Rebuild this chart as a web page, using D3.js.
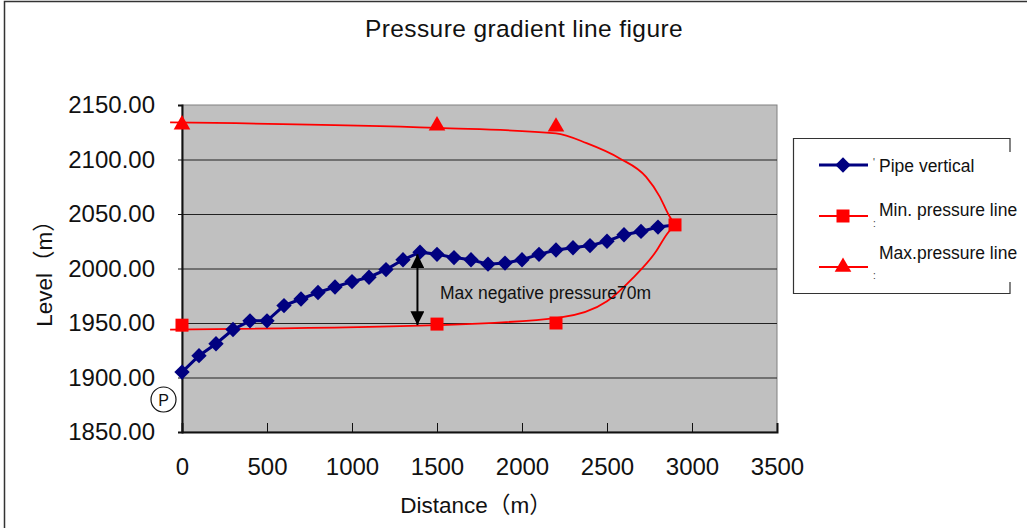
<!DOCTYPE html>
<html>
<head>
<meta charset="utf-8">
<script src="https://cdn.jsdelivr.net/npm/d3@7"></script>
<style>
    body { margin: 0; background: #fff; }
    svg { display: block; }
</style>
</head>
<body>
<div id="chart"></div>
<script>
// pipe profile, every 100 m
var pipeDistance = [0,100,200,300,400,500,600,700,800,900,1000,1100,1200,1300,1400,1500,1600,1700,1800,1900,2000,2100,2200,2300,2400,2500,2600,2700,2800,2900];
var pipeLevel = [1905,1920,1931,1944,1952,1952,1966,1972,1978,1983,1988,1992,1999,2008,2015,2013,2010,2008,2004,2005,2008,2013,2017,2019,2021,2025,2031,2034,2038,2040];

// markers
var minDistance = [0,1500,2200,2900];
var minLevel = [1948,1949,1950,2040];
var maxDistance = [0,1500,2200];
var maxLevel = [2132,2131,2130];

// smoothed pressure curves
var minCurveDistance = [-70,1500,2220,2500,2650,2790,2850,2900];
var minCurveLevel = [1944,1948,1955,1970,1991,2016,2031,2040];
var maxCurveDistance = [-70,1500,2200,2380,2575,2730,2810,2860,2900];
var maxCurveLevel = [2134,2129,2124,2115,2101,2084,2066,2050,2040];

var xTicks = [0,500,1000,1500,2000,2500,3000,3500];
var yTicks = [1850,1900,1950,2000,2050,2100,2150];

var seriesNames = ["Pipe vertical","Min. pressure line","Max.pressure line"];
var noteText = "Max negative pressure70m";
var noteDistance = 1385;
var noteTop = 2013;
var noteBottom = 1948;

var width = 1027, height = 528;
var plot = {left: 182, top: 105, right: 777, bottom: 432};
var font = "'Liberation Sans', Arial, 'Noto Sans CJK JP', sans-serif";
var navy = "#000080", red = "#ff0000";

var svg = d3.select("#chart").append("svg")
    .attr("width", width)
    .attr("height", height);

var x = d3.scaleLinear().domain([0,3500]).range([plot.left, plot.right]);
var y = d3.scaleLinear().domain([1850,2150]).range([plot.bottom, plot.top]);

// outer frame
svg.append("rect")
    .attr("x", 4.5).attr("y", 1.5)
    .attr("width", 1100).attr("height", 700)
    .attr("fill", "none")
    .attr("stroke", "#333")
    .attr("stroke-width", 1.5);

// title
svg.append("text")
    .attr("x", 524).attr("y", 37)
    .attr("text-anchor", "middle")
    .attr("font-family", font)
    .attr("font-size", 24.5)
    .attr("letter-spacing", 0.4)
    .attr("fill", "#111")
    .text("Pressure gradient line figure");

// plot background
svg.append("rect")
    .attr("x", plot.left).attr("y", plot.top)
    .attr("width", plot.right - plot.left)
    .attr("height", plot.bottom - plot.top)
    .attr("fill", "#c0c0c0")
    .attr("stroke", "#808080")
    .attr("stroke-width", 1);

// gridlines
svg.append("g").selectAll("line")
    .data(yTicks.slice(1, -1))
    .enter().append("line")
    .attr("x1", plot.left).attr("x2", plot.right)
    .attr("y1", function (d) { return y(d) + 0.5; })
    .attr("y2", function (d) { return y(d) + 0.5; })
    .attr("stroke", "#222")
    .attr("stroke-width", 1);

// axes
var yAxis = svg.append("g")
    .attr("transform", "translate(" + plot.left + ",0)")
    .call(d3.axisLeft(y).tickValues(yTicks).tickSize(4).tickPadding(24).tickFormat(d3.format(".2f")));
var xAxis = svg.append("g")
    .attr("transform", "translate(0," + plot.bottom + ")")
    .call(d3.axisBottom(x).tickValues(xTicks).tickSize(-9).tickPadding(26).tickFormat(d3.format("d")));

[yAxis, xAxis].forEach(function (ax) {
    ax.select(".domain").attr("stroke", "#111").attr("stroke-width", 2);
    ax.selectAll(".tick line").attr("stroke", "#111");
    ax.selectAll(".tick text")
        .attr("font-family", font)
        .attr("font-size", 24)
        .attr("fill", "#111");
});
yAxis.selectAll(".tick text").attr("x", -27);

// axis titles
svg.append("text")
    .attr("x", 476).attr("y", 513)
    .attr("text-anchor", "middle")
    .attr("font-family", font)
    .attr("font-size", 22.5)
    .attr("fill", "#111")
    .text("Distance（m）");

svg.append("text")
    .attr("transform", "translate(52,268) rotate(-90)")
    .attr("text-anchor", "middle")
    .attr("font-family", font)
    .attr("font-size", 22.5)
    .attr("fill", "#111")
    .text("Level（m）");

// curves
var line = d3.line()
    .x(function (d) { return x(d[0]); })
    .y(function (d) { return y(d[1]); });
var smooth = d3.line()
    .x(function (d) { return x(d[0]); })
    .y(function (d) { return y(d[1]); })
    .curve(d3.curveMonotoneX);

svg.append("path")
    .datum(d3.zip(maxCurveDistance, maxCurveLevel))
    .attr("d", smooth)
    .attr("fill", "none")
    .attr("stroke", red)
    .attr("stroke-width", 1.8);

svg.append("path")
    .datum(d3.zip(minCurveDistance, minCurveLevel))
    .attr("d", smooth)
    .attr("fill", "none")
    .attr("stroke", red)
    .attr("stroke-width", 1.8);

svg.append("path")
    .datum(d3.zip(pipeDistance, pipeLevel))
    .attr("d", line)
    .attr("fill", "none")
    .attr("stroke", navy)
    .attr("stroke-width", 3);

// markers
var diamond = d3.symbol().type(d3.symbolDiamond2).size(150);
var square = d3.symbol().type(d3.symbolSquare).size(169);
var triangle = d3.symbol().type(d3.symbolTriangle).size(120);

svg.append("g").selectAll("path")
    .data(d3.zip(pipeDistance, pipeLevel).slice(0, -1))
    .enter().append("path")
    .attr("transform", function (d) { return "translate(" + x(d[0]) + "," + y(d[1]) + ")"; })
    .attr("d", diamond)
    .attr("fill", navy);

svg.append("g").selectAll("path")
    .data(d3.zip(maxDistance, maxLevel))
    .enter().append("path")
    .attr("transform", function (d) { return "translate(" + x(d[0]) + "," + y(d[1]) + ")"; })
    .attr("d", triangle)
    .attr("fill", red);

svg.append("g").selectAll("path")
    .data(d3.zip(minDistance, minLevel))
    .enter().append("path")
    .attr("transform", function (d) { return "translate(" + x(d[0]) + "," + y(d[1]) + ")"; })
    .attr("d", square)
    .attr("fill", red);

// pump mark
svg.append("circle")
    .attr("cx", 163.5).attr("cy", 399.5).attr("r", 12.5)
    .attr("fill", "#fff")
    .attr("stroke", "#111")
    .attr("stroke-width", 1.2);
svg.append("text")
    .attr("x", 163.5).attr("y", 405.5)
    .attr("text-anchor", "middle")
    .attr("font-family", font)
    .attr("font-size", 16)
    .attr("fill", "#111")
    .text("P");

// max negative pressure arrow
var defs = svg.append("defs");
defs.append("marker")
    .attr("id", "head")
    .attr("viewBox", "0 0 10 10")
    .attr("refX", 10).attr("refY", 5)
    .attr("markerWidth", 7).attr("markerHeight", 7)
    .attr("orient", "auto-start-reverse")
    .append("path")
    .attr("d", "M0,0L10,5L0,10Z")
    .attr("fill", "#000");

svg.append("line")
    .attr("x1", x(noteDistance)).attr("x2", x(noteDistance))
    .attr("y1", y(noteTop)).attr("y2", y(noteBottom))
    .attr("stroke", "#000")
    .attr("stroke-width", 2)
    .attr("marker-start", "url(#head)")
    .attr("marker-end", "url(#head)");

svg.append("text")
    .attr("x", 440).attr("y", 299)
    .attr("font-family", font)
    .attr("font-size", 17.5)
    .attr("fill", "#111")
    .text(noteText);

// legend
var legend = svg.append("g");
legend.append("path")
    .attr("d", "M1010,152V138.5H793.5V293.5H1010V282")
    .attr("fill", "none")
    .attr("stroke", "#333")
    .attr("stroke-width", 1.2);

var rowY = [165, 216, 267];
var textY = [172, 216, 259];
var legendColor = [navy, red, red];
var legendShape = [diamond, square, triangle];
var stray = ["'", ":", ":"];
var strayY = [166, 227, 279];

seriesNames.forEach(function (name, i) {
    legend.append("line")
        .attr("x1", 819).attr("x2", 868)
        .attr("y1", rowY[i]).attr("y2", rowY[i])
        .attr("stroke", legendColor[i])
        .attr("stroke-width", i === 0 ? 3 : 1.8);
    legend.append("path")
        .attr("transform", "translate(843," + rowY[i] + ")")
        .attr("d", legendShape[i])
        .attr("fill", legendColor[i]);
    legend.append("text")
        .attr("x", 873).attr("y", strayY[i])
        .attr("font-family", font)
        .attr("font-size", 10)
        .attr("fill", "#333")
        .text(stray[i]);
    legend.append("text")
        .attr("x", 879).attr("y", textY[i])
        .attr("font-family", font)
        .attr("font-size", 17.5)
        .attr("fill", "#111")
        .text(name);
});
</script>
</body>
</html>
